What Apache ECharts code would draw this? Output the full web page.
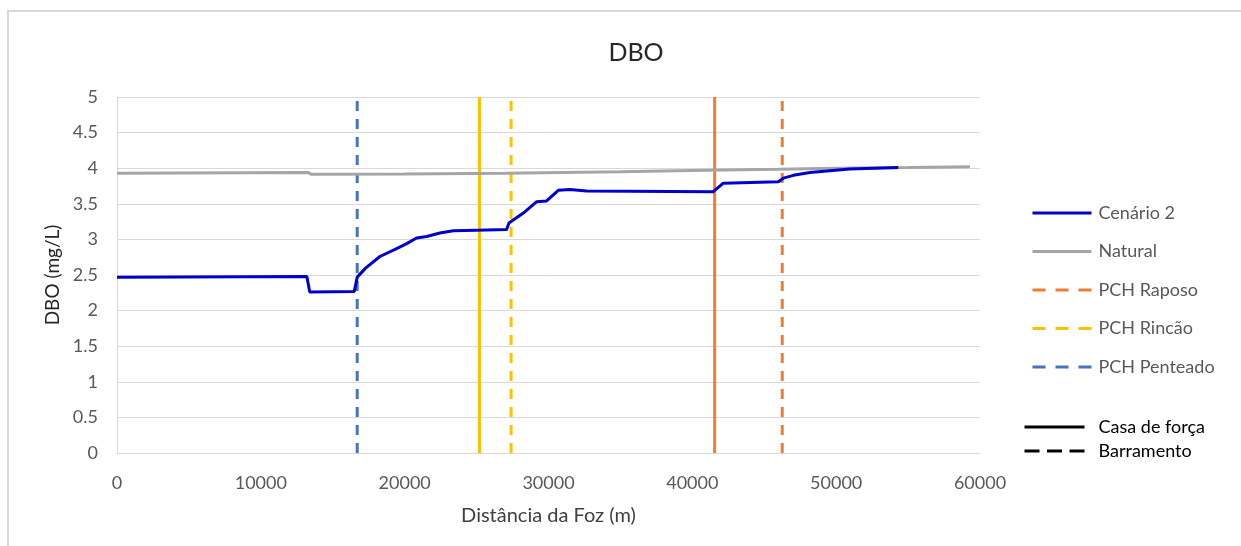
<!DOCTYPE html>
<html>
<head>
<meta charset="utf-8">
<script src="https://cdn.jsdelivr.net/npm/echarts@6/dist/echarts.min.js"></script>
<style>
html,body{margin:0;padding:0;background:#fff;}
#c{width:1241px;height:546px;}
</style>
</head>
<body>
<div id="c"></div>
<script>
// ---- data ----
const xTicks = [0, 10000, 20000, 30000, 40000, 50000, 60000];
const yTicks = [0, 0.5, 1, 1.5, 2, 2.5, 3, 3.5, 4, 4.5, 5];

const cenarioX = [0, 13200, 13400, 16500, 16700, 17300, 18280, 19440, 20140, 20830, 21530, 22450, 23380, 25000, 27090, 27250, 28250, 29180, 29870, 30680, 31490, 32650, 41460, 42150, 45980, 46330, 47020, 48180, 49340, 50960, 54320];
const cenarioY = [2.47, 2.48, 2.26, 2.27, 2.47, 2.6, 2.76, 2.87, 2.94, 3.02, 3.04, 3.09, 3.12, 3.13, 3.14, 3.23, 3.37, 3.53, 3.54, 3.69, 3.70, 3.68, 3.67, 3.79, 3.81, 3.86, 3.90, 3.94, 3.96, 3.99, 4.01];

const naturalX = [0, 13300, 13500, 20000, 27000, 35000, 41000, 46000, 50000, 55000, 59300];
const naturalY = [3.93, 3.94, 3.915, 3.92, 3.93, 3.95, 3.97, 3.985, 4.0, 4.01, 4.02];

const barramentoNames = ['PCH Raposo', 'PCH Rincão', 'PCH Penteado'];
const barramentoX = [46250, 27400, 16700];
const casaForcaNames = ['PCH Raposo', 'PCH Rincão'];
const casaForcaX = [41550, 25200];
const pchColors = {'PCH Raposo': '#ED7D31', 'PCH Rincão': '#FFC000', 'PCH Penteado': '#4472C4'};
const yRange = [0, 5];

// ---- chart ----
const FONT = 'Lato';
const chart = echarts.init(document.getElementById('c'));

const series = [
  {
    name: 'Cenário 2', type: 'line', showSymbol: false, symbol: 'none',
    data: cenarioX.map((x, i) => [x, cenarioY[i]]),
    lineStyle: {color: '#0000CC', width: 3}, itemStyle: {color: '#0000CC'}, z: 5
  },
  {
    name: 'Natural', type: 'line', showSymbol: false, symbol: 'none',
    data: naturalX.map((x, i) => [x, naturalY[i]]),
    lineStyle: {color: '#A5A5A5', width: 3}, itemStyle: {color: '#A5A5A5'}, z: 4
  }
];
barramentoNames.forEach((n, i) => {
  series.push({
    name: n, type: 'line', showSymbol: false, symbol: 'none',
    data: yRange.map(y => [barramentoX[i], y]),
    lineStyle: {color: pchColors[n], width: 3, type: [10, 8]}, itemStyle: {color: pchColors[n]}, z: 3
  });
});
casaForcaNames.forEach((n, i) => {
  series.push({
    name: n + ' casa', type: 'line', showSymbol: false, symbol: 'none',
    data: yRange.map(y => [casaForcaX[i], y]),
    lineStyle: {color: pchColors[n], width: 3}, itemStyle: {color: pchColors[n]}, z: 3
  });
});
series.push({
  name: 'Casa de força', type: 'line', showSymbol: false, symbol: 'none', data: [],
  lineStyle: {color: '#000', width: 3}, itemStyle: {color: '#000'}
});
series.push({
  name: 'Barramento', type: 'line', showSymbol: false, symbol: 'none', data: [],
  lineStyle: {color: '#000', width: 3, type: [15, 7.5]}, itemStyle: {color: '#000'}
});

chart.setOption({
  animation: false,
  backgroundColor: '#fff',
  title: {
    text: 'DBO', left: 631, top: 35, textAlign: 'center',
    textStyle: {fontFamily: FONT, fontSize: 25, fontWeight: 'normal', color: '#262626'}
  },
  graphic: [{
    type: 'rect', shape: {x: 8, y: 11, width: 1400, height: 700},
    style: {fill: 'none', stroke: '#D9D9D9', lineWidth: 2}, silent: true
  }],
  grid: {left: 117, right: 261, top: 97, bottom: 93},
  legend: [
    {
      data: [
        {name: 'Cenário 2'},
        {name: 'Natural'},
        {name: 'PCH Raposo', lineStyle: {type: [13, 10]}},
        {name: 'PCH Rincão', lineStyle: {type: [13, 10]}},
        {name: 'PCH Penteado', lineStyle: {type: [13, 10]}}
      ],
      orient: 'vertical', left: 1031, top: 204, padding: 0,
      itemWidth: 59, itemHeight: 14, itemGap: 20.5,
      itemStyle: {opacity: 0},
      lineStyle: {width: 3},
      textStyle: {fontFamily: FONT, fontSize: 18, lineHeight: 18, color: '#595959', padding: [0, 0, 0, 2]},
      selectedMode: false
    },
    {
      data: ['Casa de força', 'Barramento'],
      orient: 'vertical', left: 1023, top: 418, padding: 0,
      itemWidth: 60, itemHeight: 14, itemGap: 6,
      itemStyle: {opacity: 0},
      lineStyle: {width: 3},
      textStyle: {fontFamily: FONT, fontSize: 18, lineHeight: 18, color: '#000', padding: [0, 0, 0, 9]},
      selectedMode: false
    }
  ],
  xAxis: {
    type: 'value', min: xTicks[0], max: xTicks[xTicks.length - 1], interval: 10000,
    name: 'Distância da Foz (m)', nameLocation: 'middle', nameGap: 53,
    nameTextStyle: {fontFamily: FONT, fontSize: 20, color: '#404040'},
    axisLine: {show: true, lineStyle: {color: '#D9D9D9', width: 1}},
    axisTick: {show: false},
    axisLabel: {fontFamily: FONT, fontSize: 18, color: '#595959', margin: 21, formatter: v => String(v)},
    splitLine: {show: false}
  },
  yAxis: {
    type: 'value', min: yTicks[0], max: yTicks[yTicks.length - 1], interval: 0.5,
    name: 'DBO (mg/L)', nameLocation: 'middle', nameGap: 54, nameRotate: 90,
    nameTextStyle: {fontFamily: FONT, fontSize: 19, color: '#262626'},
    axisLine: {show: true, lineStyle: {color: '#D9D9D9', width: 1}},
    axisTick: {show: false},
    axisLabel: {fontFamily: FONT, fontSize: 18, color: '#595959', margin: 19},
    splitLine: {show: true, lineStyle: {color: '#D9D9D9', width: 1}}
  },
  series: series
});
</script>
</body>
</html>
